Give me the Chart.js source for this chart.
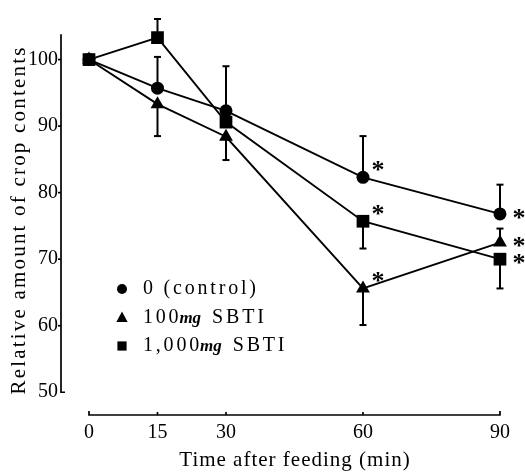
<!DOCTYPE html>
<html>
<head>
<meta charset="utf-8">
<style>
  html, body { margin: 0; padding: 0; background: #fff; }
  #wrap { width: 525px; height: 473px; }
</style>
<script src="https://cdn.jsdelivr.net/npm/chart.js@4.4.1/dist/chart.umd.min.js"></script>
</head>
<body>
<div id="wrap"><canvas id="chart" width="525" height="473"></canvas></div>
<script>
// values (relative crop contents, %)
const times = [0, 15, 30, 60, 90];
const xTicks = [0, 15, 30, 60, 90];
const yTicks = [50, 60, 70, 80, 90, 100];

const control = [100, 95.7, 92.3, 82.3, 76.8];
const sbti100 = [100, 93.3, 88.4, 65.6, 72.5];
const sbti1000 = [100, 103.3, 90.6, 75.7, 70.0];

// end of the (one-sided) error bar at each time, null = none drawn
const controlErr = [null, 100.4, 99.0, 88.5, 81.2];
const sbti100Err = [null, 88.5, 84.9, 60.1, 74.6];
const sbti1000Err = [null, 106.1, null, 71.6, 65.6];

// significance marks (*)
const controlSig = [false, false, false, true, true];
const sbti100Sig = [false, false, false, true, true];
const sbti1000Sig = [false, false, false, true, true];

const SERIF = "'Liberation Serif', 'DejaVu Serif', serif";
const INK = "#000";

const datasets = [
  { label: "0 (control)", data: control, err: controlErr, sig: controlSig, pointStyle: "circle", pointRadius: 6.5, legendR: 5 },
  { label: "100mg SBTI", data: sbti100, err: sbti100Err, sig: sbti100Sig, pointStyle: "triangle", pointRadius: 8, legendR: 6.5 },
  { label: "1,000mg SBTI", data: sbti1000, err: sbti1000Err, sig: sbti1000Sig, pointStyle: "rect", pointRadius: 9, legendR: 6.5 },
].map(d => ({
  label: d.label,
  data: d.data.map((v, i) => ({ x: times[i], y: v })),
  err: d.err,
  sig: d.sig,
  legendR: d.legendR,
  pointStyle: d.pointStyle,
  pointRadius: d.pointRadius,
  pointHoverRadius: d.pointRadius,
  pointBackgroundColor: INK,
  pointBorderColor: INK,
  pointBorderWidth: 0,
  borderColor: INK,
  borderWidth: 1.9,
  tension: 0,
  showLine: true,
  fill: false,
}));

function drawMarker(ctx, style, x, y, r) {
  ctx.beginPath();
  if (style === "circle") {
    ctx.arc(x, y, r, 0, Math.PI * 2);
  } else if (style === "triangle") {
    ctx.moveTo(x, y - r);
    ctx.lineTo(x + r * 0.866, y + r * 0.6);
    ctx.lineTo(x - r * 0.866, y + r * 0.6);
    ctx.closePath();
  } else {
    const s = r * Math.SQRT1_2;
    ctx.rect(x - s, y - s, 2 * s, 2 * s);
  }
  ctx.fill();
}

// error bars under the markers
const errorBars = {
  id: "errorBars",
  beforeDatasetsDraw(chart) {
    const { ctx, scales: { x, y } } = chart;
    ctx.save();
    ctx.strokeStyle = INK;
    ctx.lineCap = "butt";
    ctx.lineWidth = 2;
    chart.data.datasets.forEach(ds => {
      ds.err.forEach((e, i) => {
        if (e == null) return;
        const px = x.getPixelForValue(ds.data[i].x);
        const p0 = y.getPixelForValue(ds.data[i].y);
        const p1 = y.getPixelForValue(e);
        ctx.beginPath();
        ctx.moveTo(px, p0);
        ctx.lineTo(px, p1);
        ctx.stroke();
        ctx.beginPath();
        ctx.moveTo(px - 3.5, p1);
        ctx.lineTo(px + 3.5, p1);
        ctx.stroke();
      });
    });
    ctx.restore();
  }
};

// axis lines, asterisks, legend and titles
const decorations = {
  id: "decorations",
  afterDraw(chart) {
    const { ctx, scales: { x, y } } = chart;
    ctx.save();
    ctx.strokeStyle = INK;
    ctx.fillStyle = INK;

    // y axis: from 50 up to just above 100
    const ax = chart.chartArea.left;
    const yTop = y.getPixelForValue(103.8);
    const yBot = y.getPixelForValue(yTicks[0]);
    ctx.lineWidth = 1.7;
    ctx.beginPath();
    ctx.moveTo(ax, yTop);
    ctx.lineTo(ax, yBot);
    ctx.lineTo(ax + 4, yBot);
    ctx.stroke();
    yTicks.slice(1).forEach(v => {
      const py = y.getPixelForValue(v);
      ctx.beginPath();
      ctx.moveTo(ax - 3, py);
      ctx.lineTo(ax, py);
      ctx.stroke();
    });

    // x axis: separate line below
    const ay = chart.chartArea.bottom;
    const x0 = x.getPixelForValue(xTicks[0]);
    const x1 = x.getPixelForValue(xTicks[xTicks.length - 1]);
    ctx.beginPath();
    ctx.moveTo(x0, ay - 4);
    ctx.lineTo(x0, ay);
    ctx.lineTo(x1, ay);
    ctx.lineTo(x1, ay - 4);
    ctx.stroke();
    xTicks.slice(1, -1).forEach(v => {
      const px = x.getPixelForValue(v);
      ctx.beginPath();
      ctx.moveTo(px, ay);
      ctx.lineTo(px, ay - 3);
      ctx.stroke();
    });

    // significance asterisks
    ctx.font = "bold 26px " + SERIF;
    ctx.textAlign = "center";
    ctx.textBaseline = "middle";
    chart.data.datasets.forEach(ds => {
      ds.sig.forEach((s, i) => {
        if (!s) return;
        const px = x.getPixelForValue(ds.data[i].x);
        const py = y.getPixelForValue(ds.data[i].y);
        const last = i === ds.sig.length - 1;
        ctx.fillText("*", px + (last ? 19 : 15), py + (last ? 5 : -6));
      });
    });

    // legend
    const legendX = 122, textX = 143;
    const rows = [289, 318, 346];
    ctx.textAlign = "left";
    ctx.textBaseline = "middle";
    chart.data.datasets.forEach((ds, k) => {
      const ly = rows[k];
      drawMarker(ctx, ds.pointStyle, legendX, ly, ds.legendR);
      let cx = textX;
      const parts = ds.label.split("mg");
      ctx.letterSpacing = "2.8px";
      ctx.font = "20px " + SERIF;
      if (parts.length === 1) {
        ctx.fillText(ds.label, cx, ly);
        return;
      }
      ctx.fillText(parts[0], cx, ly);
      cx += ctx.measureText(parts[0]).width - 2;
      ctx.font = "italic bold 17px " + SERIF;
      ctx.letterSpacing = "0px";
      ctx.fillText("mg", cx, ly + 1);
      cx += ctx.measureText("mg").width + 11;
      ctx.font = "20px " + SERIF;
      ctx.letterSpacing = "2.8px";
      ctx.fillText(parts[1].trim(), cx, ly);
    });

    // axis titles
    ctx.font = "21px " + SERIF;
    ctx.letterSpacing = "1px";
    ctx.textAlign = "center";
    ctx.fillText("Time after feeding (min)", 295, 460);

    ctx.save();
    ctx.translate(19, 220);
    ctx.rotate(-Math.PI / 2);
    ctx.letterSpacing = "2.2px";
    ctx.fillText("Relative amount of crop contents", 0, 0);
    ctx.restore();

    ctx.restore();
  }
};

new Chart(document.getElementById("chart"), {
  type: "scatter",
  data: { datasets },
  options: {
    responsive: false,
    animation: false,
    clip: false,
    layout: { padding: { top: 5, right: 20, left: 0, bottom: 0 } },
    plugins: {
      legend: { display: false },
      tooltip: { enabled: false },
    },
    scales: {
      x: {
        type: "linear",
        min: -6.13,
        max: 91.1,
        afterBuildTicks: s => { s.ticks = xTicks.map(v => ({ value: v })); },
        afterFit: s => { s.height = 58; },
        grid: { display: false, drawTicks: false },
        border: { display: false },
        ticks: {
          autoSkip: false,
          maxRotation: 0,
          padding: 6,
          color: INK,
          font: { family: SERIF, size: 20 },
        },
      },
      y: {
        type: "linear",
        min: 46.58,
        max: 106.7,
        afterBuildTicks: s => { s.ticks = yTicks.map(v => ({ value: v })); },
        afterFit: s => { s.width = 61; },
        grid: { display: false, drawTicks: false },
        border: { display: false },
        ticks: {
          padding: 3,
          color: INK,
          font: { family: SERIF, size: 20 },
        },
      },
    },
  },
  plugins: [errorBars, decorations],
});
</script>
</body>
</html>
